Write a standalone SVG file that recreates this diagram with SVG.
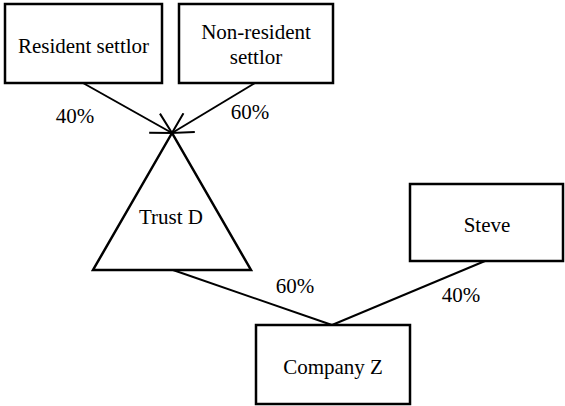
<svg xmlns="http://www.w3.org/2000/svg" width="565" height="406" viewBox="0 0 565 406">
<style>
.box{fill:#fff;stroke:#000;stroke-width:2.5}
.ln{fill:none;stroke:#000;stroke-width:2}
text{font-family:"Liberation Serif","Times New Roman",serif;font-size:21px;fill:#000;text-anchor:middle}
</style>
<defs>
<marker id="arr" viewBox="-22 -12 24 24" markerWidth="24" markerHeight="24" refX="0" refY="0" orient="auto" markerUnits="userSpaceOnUse">
<path d="M-20,-11 L0,0 L-20,11" fill="none" stroke="#000" stroke-width="2"/>
</marker>
</defs>
<g id="connectors">
<line class="ln" x1="83" y1="83" x2="172" y2="133" marker-end="url(#arr)"/>
<line class="ln" x1="255" y1="83" x2="172" y2="133" marker-end="url(#arr)"/>
<line class="ln" x1="173" y1="270" x2="332" y2="325"/>
<line class="ln" x1="485" y1="261" x2="332" y2="325"/>
<text x="75" y="123">40%</text>
<text x="250" y="119">60%</text>
<text x="295" y="293">60%</text>
<text x="461" y="302">40%</text>
</g>
<g id="resident">
<rect class="box" x="5" y="4" width="157" height="79"/>
<text x="83.5" y="53">Resident settlor</text>
</g>
<g id="nonresident">
<rect class="box" x="179" y="4" width="154" height="79"/>
<text x="256" y="39">Non-resident</text>
<text x="256" y="64">settlor</text>
</g>
<g id="trust">
<polygon class="box" points="172,133 93,270 251,270"/>
<text x="171" y="224">Trust D</text>
</g>
<g id="steve">
<rect class="box" x="410" y="184" width="153" height="77"/>
<text x="487" y="232">Steve</text>
</g>
<g id="company">
<rect class="box" x="256" y="325" width="154" height="79"/>
<text x="333" y="374">Company Z</text>
</g>
</svg>
